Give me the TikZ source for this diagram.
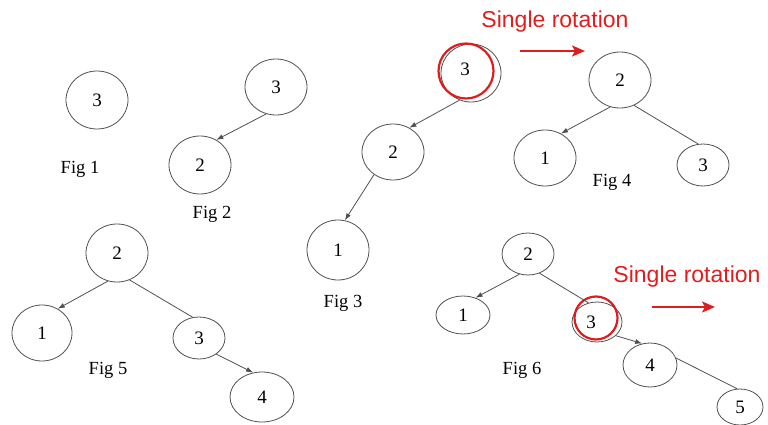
\documentclass[tikz,border=0pt]{standalone}
\usepackage{fontspec}
\setmainfont{Liberation Serif}
\newfontfamily\redfont{Liberation Sans}
\usetikzlibrary{shapes.geometric,arrows.meta}
\definecolor{rotred}{RGB}{222,30,30}
\definecolor{linegray}{RGB}{80,80,80}
\tikzset{
  nd/.style={ellipse,draw=linegray,line width=0.8pt,inner sep=0pt,font=\fontsize{19}{21}\selectfont},
  lbl/.style={font=\fontsize{18.5}{20}\selectfont,inner sep=0pt},
  rot/.style={font=\redfont\fontsize{23}{26}\selectfont,text=rotred,inner sep=0pt},
  hi/.style={circle,draw=rotred,line width=2.2pt,inner sep=0pt},
  arr/.style={draw=linegray,line width=0.8pt,-{Latex[length=7pt,width=5pt]}},
  ln/.style={draw=linegray,line width=0.8pt},
  rarr/.style={draw=rotred,line width=2pt,-{Stealth[length=13pt,width=11pt,inset=3pt]}}
}
\begin{document}
\begin{tikzpicture}[x=1pt,y=-1pt]
\useasboundingbox (0,0) rectangle (768,425);
% Fig 1
\node[nd,minimum width=62pt,minimum height=58pt] (a3) at (97,100) {3};
\node[lbl] (f1) at (80,169) {Fig 1};
% Fig 2
\node[nd,minimum width=62pt,minimum height=56pt] (b3) at (276,87) {3};
\node[nd,minimum width=62pt,minimum height=58pt] (b2) at (200,165) {2};
\node[lbl] (f2) at (212,214) {Fig 2};
\draw[arr] (b3.250) -- (b2.57);
% Fig 3
\node[nd,minimum width=60pt,minimum height=58pt] (c3) at (471,73) {};
\node[hi,minimum size=55pt] (c3r) at (466,71) {};
\node[font=\fontsize{19}{21}\selectfont] (c3t) at (465,69) {3};
\node[nd,minimum width=62pt,minimum height=56pt] (c2) at (393,152) {2};
\node[nd,minimum width=62pt,minimum height=60pt] (c1) at (338,250) {1};
\node[lbl] (f3) at (343,303) {Fig 3};
\draw[arr] (c3.247) -- (c2.56);
\draw[arr] (c2.230) -- (c1.77);
% Fig 4
\node[nd,minimum width=62pt,minimum height=56pt] (d2) at (620,80) {2};
\node[nd,minimum width=62pt,minimum height=56pt] (d1) at (545,158) {1};
\node[nd,minimum width=52pt,minimum height=42pt] (d3) at (703,165) {3};
\node[lbl] (f4) at (612,182) {Fig 4};
\draw[arr] (d2.250) -- (d1.57);
\draw[ln] (d2.299) -- (d3.103);
\node[rot] (r1) at (555,22) {Single rotation};
\coordinate (r1s) at (520,51);
\coordinate (r1e) at (585,51);
\draw[rarr] (r1s) -- (r1e);
% Fig 5
\node[nd,minimum width=62pt,minimum height=58pt] (e2) at (117,253) {2};
\node[nd,minimum width=60pt,minimum height=56pt] (e1) at (42,333) {1};
\node[nd,minimum width=52pt,minimum height=42pt] (e3) at (199,338) {3};
\node[nd,minimum width=64pt,minimum height=50pt] (e4) at (262,397) {4};
\node[lbl] (f5) at (108,370) {Fig 5};
\draw[arr] (e2.252) -- (e1.57);
\draw[ln] (e2.295) -- (e3.107);
\draw[arr] (e3.317) -- (e4.110);
% Fig 6
\node[nd,minimum width=52pt,minimum height=42pt] (g2) at (528,254) {2};
\node[nd,minimum width=54pt,minimum height=38pt] (g1) at (463,315) {1};
\node[nd,minimum width=50pt,minimum height=40pt] (g3) at (597,322) {};
\node[hi,minimum size=43pt] (g3r) at (596,318) {};
\node[font=\fontsize{19}{21}\selectfont] (g3t) at (591,322) {3};
\node[nd,minimum width=54pt,minimum height=44pt] (g4) at (650,365) {4};
\node[nd,minimum width=46pt,minimum height=36pt] (g5) at (740,407) {5};
\node[lbl] (f6) at (522,370) {Fig 6};
\draw[arr] (g2.247) -- (g1.54);
\draw[ln] (g2.301) -- (g3.114);
\draw[arr] (g3.324) -- (g4.110);
\draw[ln] (g4.15) -- (g5.99);
\node[rot] (r2) at (687,277) {Single rotation};
\coordinate (r2s) at (652,307);
\coordinate (r2e) at (715,307);
\draw[rarr] (r2s) -- (r2e);
\end{tikzpicture}
\end{document}
